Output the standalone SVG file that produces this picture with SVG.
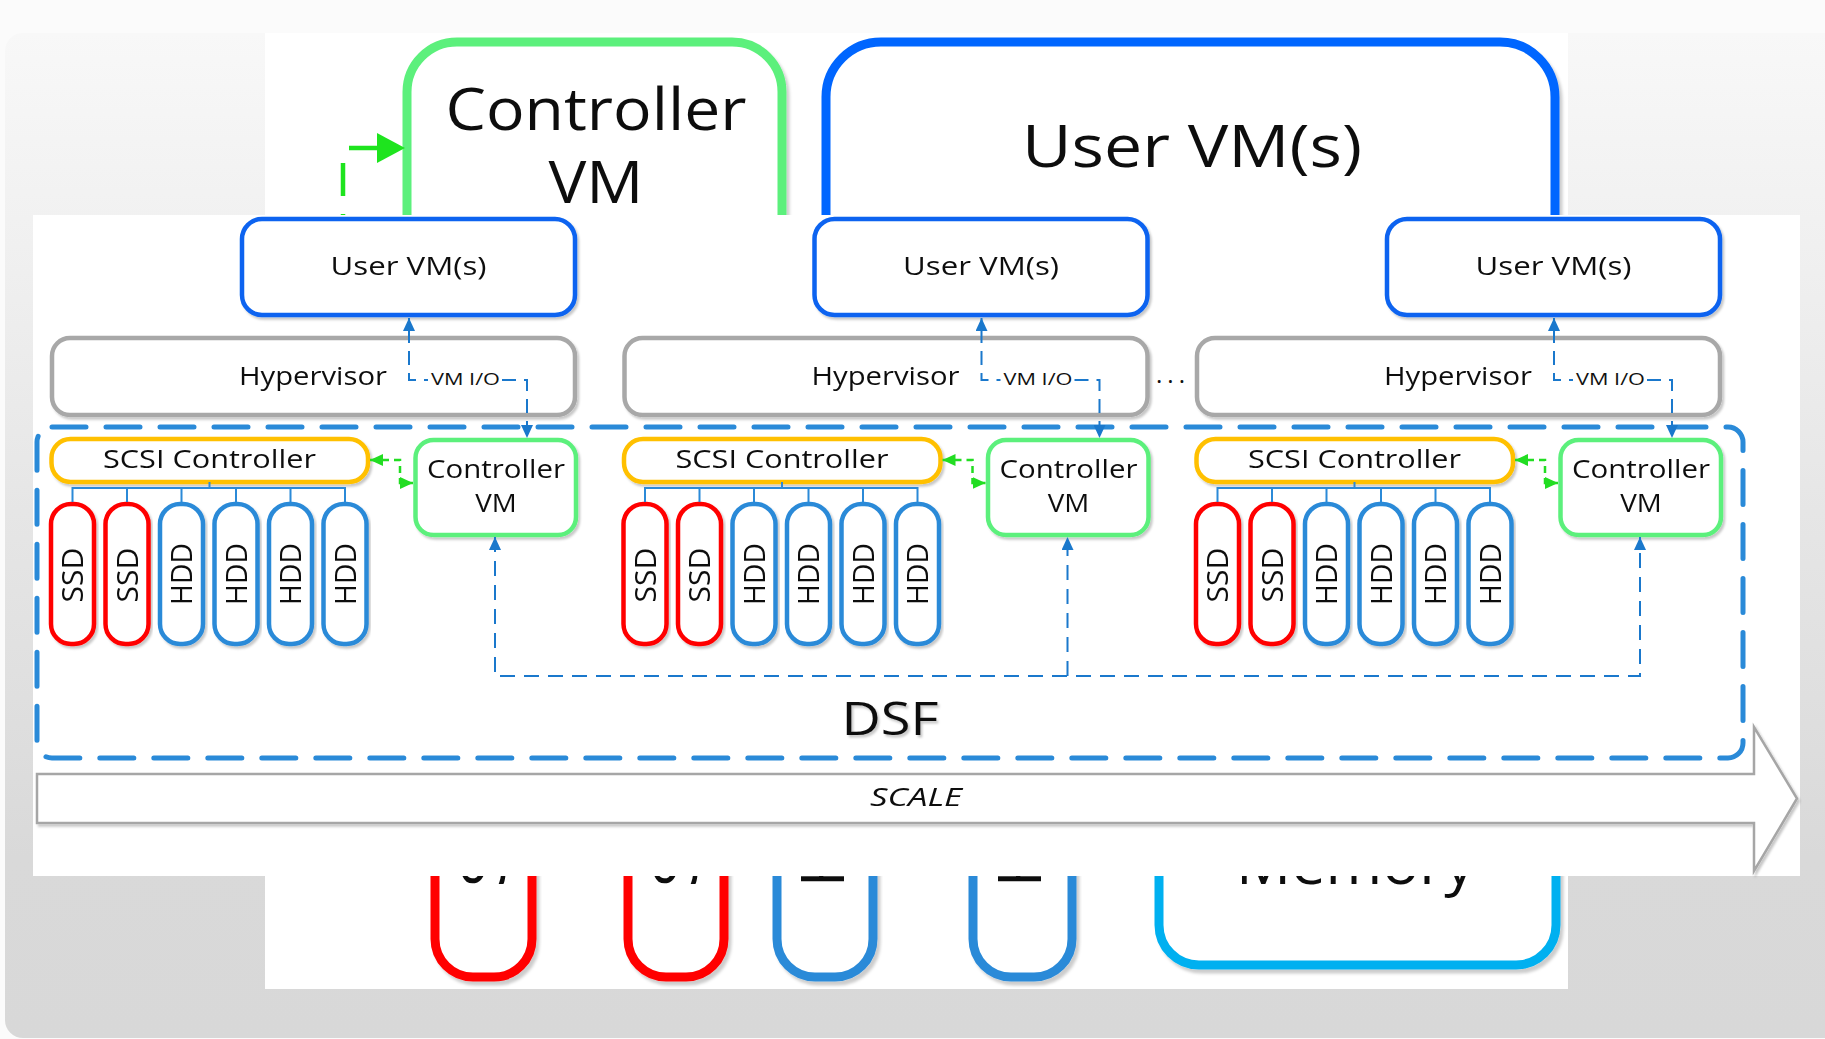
<svg xmlns="http://www.w3.org/2000/svg" width="1825" height="1039" viewBox="0 0 1825 1039">
<defs>
<style>
text{font-family:"Open Sans","Liberation Sans",sans-serif;fill:#111;}
.t25{font-size:25px;}
.t29{font-size:29px;}
.box{fill:#fff;stroke-width:4.5;}
.uvm{stroke:#0a64f0;}
.hyp{stroke:#a8a8a8;}
.scsi{stroke:#ffc000;}
.cvm{stroke:#5cf07c;}
.ssd{stroke:#ff0000;}
.hdd{stroke:#2b8ad8;}
.big{fill:#fff;stroke-width:9;}
.io{fill:none;stroke:#1a78cc;stroke-width:2;stroke-dasharray:14 8;}
.io2{fill:none;stroke:#1a78cc;stroke-width:2;stroke-dasharray:15 9;}
.tree{fill:none;stroke:#2b8ad8;stroke-width:2;}
.gdash{fill:none;stroke:#22dd22;stroke-width:2.5;stroke-dasharray:7 5;}
.dsf{fill:none;stroke:#2a8ad8;stroke-width:5;stroke-dasharray:34 20;stroke-linecap:round;}
</style>
<linearGradient id="bg" x1="0" y1="0" x2="0" y2="1">
<stop offset="0" stop-color="#f8f8f8"/>
<stop offset="0.82" stop-color="#d9d9d9"/>
<stop offset="1" stop-color="#d8d8d8"/>
</linearGradient>
<filter id="sh" x="-5%" y="-5%" width="115%" height="120%">
<feDropShadow dx="2" dy="2.5" stdDeviation="1.2" flood-color="#000" flood-opacity="0.22"/>
</filter>
<filter id="shb" x="-5%" y="-5%" width="115%" height="120%">
<feDropShadow dx="3" dy="4" stdDeviation="1.5" flood-color="#000" flood-opacity="0.2"/>
</filter>
<marker id="ab" viewBox="0 0 13 12" refX="13" refY="6" markerWidth="13" markerHeight="12" markerUnits="userSpaceOnUse" orient="auto-start-reverse">
<path d="M0,0 L13,6 L0,12 z" fill="#1a78cc"/>
</marker>
<marker id="ag" viewBox="0 0 13 12" refX="13" refY="6" markerWidth="13" markerHeight="12" markerUnits="userSpaceOnUse" orient="auto-start-reverse">
<path d="M0,0 L13,6 L0,12 z" fill="#22dd22"/>
</marker>
</defs>

<!-- background slide -->
<rect x="0" y="0" width="1825" height="1039" fill="#fbfbfb"/>
<rect x="5" y="33" width="1850" height="1005" rx="18" fill="url(#bg)"/>

<!-- back picture -->
<g id="back-picture">
<rect x="265" y="33" width="1303" height="956" fill="#fff"/>
<g id="back-controller-vm" filter="url(#shb)">
<rect class="big" x="407" y="42" width="375" height="560" rx="50" stroke="#5cf07c"/>
<text x="596" y="130" text-anchor="middle" font-size="59" textLength="301" lengthAdjust="spacingAndGlyphs">Controller</text>
<text x="596" y="203" text-anchor="middle" font-size="59" textLength="95" lengthAdjust="spacingAndGlyphs">VM</text>
</g>
<g id="back-user-vm" filter="url(#shb)">
<rect class="big" x="826" y="42" width="729" height="560" rx="55" stroke="#0066ff"/>
<text x="1192" y="167" text-anchor="middle" font-size="59" textLength="340" lengthAdjust="spacingAndGlyphs">User VM(s)</text>
</g>
<g id="back-arrow">
<path d="M379 148 H343 V240" fill="none" stroke="#1ee41e" stroke-width="4.5" stroke-dasharray="30 21 33 18"/>
<polygon points="377,133 405,148 377,163" fill="#1ee41e"/>
</g>
<g id="back-disk-1" filter="url(#shb)">
<rect class="big" x="435" y="640" width="97" height="337" rx="38" stroke="#ff0000"/>
<text transform="translate(505,887) rotate(-90)" font-size="60">SSD</text>
</g>
<g id="back-disk-2" filter="url(#shb)">
<rect class="big" x="628" y="640" width="96" height="337" rx="38" stroke="#ff0000"/>
<text transform="translate(697,887) rotate(-90)" font-size="60">SSD</text>
</g>
<g id="back-disk-3" filter="url(#shb)">
<rect class="big" x="777" y="640" width="96" height="337" rx="38" stroke="#2b8ad8"/>
<text transform="translate(844,887) rotate(-90)" font-size="60">HDD</text>
</g>
<g id="back-disk-4" filter="url(#shb)">
<rect class="big" x="973" y="640" width="99" height="337" rx="38" stroke="#2b8ad8"/>
<text transform="translate(1041,887) rotate(-90)" font-size="60">HDD</text>
</g>
<g id="back-memory" filter="url(#shb)">
<rect class="big" x="1159" y="640" width="397" height="325" rx="40" stroke="#00b0f0"/>
<text x="1355.5" y="884" text-anchor="middle" font-size="58" textLength="239" lengthAdjust="spacingAndGlyphs">Memory</text>
</g>
</g>

<!-- front panel -->
<rect id="front-panel" x="33" y="215" width="1767" height="661" fill="#fff"/>

<!-- DSF container -->
<g id="dsf">
<rect class="dsf" x="37" y="427" width="1706" height="331" rx="15"/>
<text x="890" y="735" text-anchor="middle" font-size="46" textLength="97" lengthAdjust="spacingAndGlyphs" filter="url(#sh)">DSF</text>
</g>

<!-- SCALE arrow -->
<g id="scale" filter="url(#sh)">
<polygon points="37,774 1754,774 1754,727 1797,798.5 1754,871 1754,823 37,823" fill="#fff" stroke="#a6a6a6" stroke-width="2.5"/>
<text x="916" y="806" text-anchor="middle" font-size="26" font-style="italic" textLength="92" lengthAdjust="spacingAndGlyphs">SCALE</text>
</g>

<!-- column 1 -->
<g id="col1">
<g id="uservm-1" filter="url(#sh)"><rect class="box uvm" x="242" y="219" width="333" height="96" rx="20"/><text class="t25" x="408.5" y="275" text-anchor="middle" textLength="156" lengthAdjust="spacingAndGlyphs">User VM(s)</text></g>
<g id="hypervisor-1" filter="url(#sh)"><rect class="box hyp" x="52" y="338" width="523" height="77" rx="18"/><text class="t25" x="313" y="385" text-anchor="middle" textLength="148" lengthAdjust="spacingAndGlyphs">Hypervisor</text></g>
<g id="scsi-1" filter="url(#sh)"><rect class="box scsi" x="51.5" y="439" width="316.5" height="43" rx="19"/><text class="t25" x="209.5" y="468" text-anchor="middle" textLength="213" lengthAdjust="spacingAndGlyphs">SCSI Controller</text></g>
<g id="cvm-1" filter="url(#sh)"><rect class="box cvm" x="415.5" y="440" width="160.5" height="95" rx="18"/><text class="t25" x="496" y="478" text-anchor="middle" textLength="138" lengthAdjust="spacingAndGlyphs">Controller</text><text class="t25" x="496" y="512" text-anchor="middle" textLength="41.5" lengthAdjust="spacingAndGlyphs">VM</text></g>
<g id="disk-1-1" filter="url(#sh)"><rect class="box ssd" x="51" y="504" width="43" height="140" rx="20"/><text class="t29" transform="translate(83,575) rotate(-90)" text-anchor="middle" textLength="55" lengthAdjust="spacingAndGlyphs">SSD</text></g>
<g id="disk-1-2" filter="url(#sh)"><rect class="box ssd" x="105.5" y="504" width="43" height="140" rx="20"/><text class="t29" transform="translate(137.5,575) rotate(-90)" text-anchor="middle" textLength="55" lengthAdjust="spacingAndGlyphs">SSD</text></g>
<g id="disk-1-3" filter="url(#sh)"><rect class="box hdd" x="160" y="504" width="43" height="140" rx="20"/><text class="t29" transform="translate(192,574) rotate(-90)" text-anchor="middle" textLength="62" lengthAdjust="spacingAndGlyphs">HDD</text></g>
<g id="disk-1-4" filter="url(#sh)"><rect class="box hdd" x="214.5" y="504" width="43" height="140" rx="20"/><text class="t29" transform="translate(246.5,574) rotate(-90)" text-anchor="middle" textLength="62" lengthAdjust="spacingAndGlyphs">HDD</text></g>
<g id="disk-1-5" filter="url(#sh)"><rect class="box hdd" x="269" y="504" width="43" height="140" rx="20"/><text class="t29" transform="translate(301,574) rotate(-90)" text-anchor="middle" textLength="62" lengthAdjust="spacingAndGlyphs">HDD</text></g>
<g id="disk-1-6" filter="url(#sh)"><rect class="box hdd" x="323.5" y="504" width="43" height="140" rx="20"/><text class="t29" transform="translate(355.5,574) rotate(-90)" text-anchor="middle" textLength="62" lengthAdjust="spacingAndGlyphs">HDD</text></g>
</g>

<!-- column 2 -->
<g id="col2" transform="translate(572.5,0)">
<g id="uservm-2" filter="url(#sh)"><rect class="box uvm" x="242" y="219" width="333" height="96" rx="20"/><text class="t25" x="408.5" y="275" text-anchor="middle" textLength="156" lengthAdjust="spacingAndGlyphs">User VM(s)</text></g>
<g id="hypervisor-2" filter="url(#sh)"><rect class="box hyp" x="52" y="338" width="523" height="77" rx="18"/><text class="t25" x="313" y="385" text-anchor="middle" textLength="148" lengthAdjust="spacingAndGlyphs">Hypervisor</text></g>
<g id="scsi-2" filter="url(#sh)"><rect class="box scsi" x="51.5" y="439" width="316.5" height="43" rx="19"/><text class="t25" x="209.5" y="468" text-anchor="middle" textLength="213" lengthAdjust="spacingAndGlyphs">SCSI Controller</text></g>
<g id="cvm-2" filter="url(#sh)"><rect class="box cvm" x="415.5" y="440" width="160.5" height="95" rx="18"/><text class="t25" x="496" y="478" text-anchor="middle" textLength="138" lengthAdjust="spacingAndGlyphs">Controller</text><text class="t25" x="496" y="512" text-anchor="middle" textLength="41.5" lengthAdjust="spacingAndGlyphs">VM</text></g>
<g id="disk-2-1" filter="url(#sh)"><rect class="box ssd" x="51" y="504" width="43" height="140" rx="20"/><text class="t29" transform="translate(83,575) rotate(-90)" text-anchor="middle" textLength="55" lengthAdjust="spacingAndGlyphs">SSD</text></g>
<g id="disk-2-2" filter="url(#sh)"><rect class="box ssd" x="105.5" y="504" width="43" height="140" rx="20"/><text class="t29" transform="translate(137.5,575) rotate(-90)" text-anchor="middle" textLength="55" lengthAdjust="spacingAndGlyphs">SSD</text></g>
<g id="disk-2-3" filter="url(#sh)"><rect class="box hdd" x="160" y="504" width="43" height="140" rx="20"/><text class="t29" transform="translate(192,574) rotate(-90)" text-anchor="middle" textLength="62" lengthAdjust="spacingAndGlyphs">HDD</text></g>
<g id="disk-2-4" filter="url(#sh)"><rect class="box hdd" x="214.5" y="504" width="43" height="140" rx="20"/><text class="t29" transform="translate(246.5,574) rotate(-90)" text-anchor="middle" textLength="62" lengthAdjust="spacingAndGlyphs">HDD</text></g>
<g id="disk-2-5" filter="url(#sh)"><rect class="box hdd" x="269" y="504" width="43" height="140" rx="20"/><text class="t29" transform="translate(301,574) rotate(-90)" text-anchor="middle" textLength="62" lengthAdjust="spacingAndGlyphs">HDD</text></g>
<g id="disk-2-6" filter="url(#sh)"><rect class="box hdd" x="323.5" y="504" width="43" height="140" rx="20"/><text class="t29" transform="translate(355.5,574) rotate(-90)" text-anchor="middle" textLength="62" lengthAdjust="spacingAndGlyphs">HDD</text></g>
</g>

<!-- ellipsis between columns 2 and 3 -->
<text id="ellipsis" x="1156" y="383" font-size="24" textLength="29" lengthAdjust="spacing">...</text>

<!-- column 3 -->
<g id="col3" transform="translate(1145,0)">
<g id="uservm-3" filter="url(#sh)"><rect class="box uvm" x="242" y="219" width="333" height="96" rx="20"/><text class="t25" x="408.5" y="275" text-anchor="middle" textLength="156" lengthAdjust="spacingAndGlyphs">User VM(s)</text></g>
<g id="hypervisor-3" filter="url(#sh)"><rect class="box hyp" x="52" y="338" width="523" height="77" rx="18"/><text class="t25" x="313" y="385" text-anchor="middle" textLength="148" lengthAdjust="spacingAndGlyphs">Hypervisor</text></g>
<g id="scsi-3" filter="url(#sh)"><rect class="box scsi" x="51.5" y="439" width="316.5" height="43" rx="19"/><text class="t25" x="209.5" y="468" text-anchor="middle" textLength="213" lengthAdjust="spacingAndGlyphs">SCSI Controller</text></g>
<g id="cvm-3" filter="url(#sh)"><rect class="box cvm" x="415.5" y="440" width="160.5" height="95" rx="18"/><text class="t25" x="496" y="478" text-anchor="middle" textLength="138" lengthAdjust="spacingAndGlyphs">Controller</text><text class="t25" x="496" y="512" text-anchor="middle" textLength="41.5" lengthAdjust="spacingAndGlyphs">VM</text></g>
<g id="disk-3-1" filter="url(#sh)"><rect class="box ssd" x="51" y="504" width="43" height="140" rx="20"/><text class="t29" transform="translate(83,575) rotate(-90)" text-anchor="middle" textLength="55" lengthAdjust="spacingAndGlyphs">SSD</text></g>
<g id="disk-3-2" filter="url(#sh)"><rect class="box ssd" x="105.5" y="504" width="43" height="140" rx="20"/><text class="t29" transform="translate(137.5,575) rotate(-90)" text-anchor="middle" textLength="55" lengthAdjust="spacingAndGlyphs">SSD</text></g>
<g id="disk-3-3" filter="url(#sh)"><rect class="box hdd" x="160" y="504" width="43" height="140" rx="20"/><text class="t29" transform="translate(192,574) rotate(-90)" text-anchor="middle" textLength="62" lengthAdjust="spacingAndGlyphs">HDD</text></g>
<g id="disk-3-4" filter="url(#sh)"><rect class="box hdd" x="214.5" y="504" width="43" height="140" rx="20"/><text class="t29" transform="translate(246.5,574) rotate(-90)" text-anchor="middle" textLength="62" lengthAdjust="spacingAndGlyphs">HDD</text></g>
<g id="disk-3-5" filter="url(#sh)"><rect class="box hdd" x="269" y="504" width="43" height="140" rx="20"/><text class="t29" transform="translate(301,574) rotate(-90)" text-anchor="middle" textLength="62" lengthAdjust="spacingAndGlyphs">HDD</text></g>
<g id="disk-3-6" filter="url(#sh)"><rect class="box hdd" x="323.5" y="504" width="43" height="140" rx="20"/><text class="t29" transform="translate(355.5,574) rotate(-90)" text-anchor="middle" textLength="62" lengthAdjust="spacingAndGlyphs">HDD</text></g>
</g>

<!-- connectors (drawn over the nodes) -->
<g id="connectors">
<g id="conn-col1">
<path class="io" d="M409 318 V380 H428" stroke-dashoffset="-11" marker-start="url(#ab)"/>
<path class="io" d="M502 380 H527 V438" marker-end="url(#ab)"/>
<path class="gdash" d="M370 460 H400 V483 H413" marker-start="url(#ag)" marker-end="url(#ag)"/>
<path class="tree" d="M209.5 482 V488 M72.5 502 V488 H345 V502 M127 488 V502 M181.5 488 V502 M236 488 V502 M290.5 488 V502"/>
</g>
<g id="conn-col2" transform="translate(572.5,0)">
<path class="io" d="M409 318 V380 H428" stroke-dashoffset="-11" marker-start="url(#ab)"/>
<path class="io" d="M502 380 H527 V438" marker-end="url(#ab)"/>
<path class="gdash" d="M370 460 H400 V483 H413" marker-start="url(#ag)" marker-end="url(#ag)"/>
<path class="tree" d="M209.5 482 V488 M72.5 502 V488 H345 V502 M127 488 V502 M181.5 488 V502 M236 488 V502 M290.5 488 V502"/>
</g>
<g id="conn-col3" transform="translate(1145,0)">
<path class="io" d="M409 318 V380 H428" stroke-dashoffset="-11" marker-start="url(#ab)"/>
<path class="io" d="M502 380 H527 V438" marker-end="url(#ab)"/>
<path class="gdash" d="M370 460 H400 V483 H413" marker-start="url(#ag)" marker-end="url(#ag)"/>
<path class="tree" d="M209.5 482 V488 M72.5 502 V488 H345 V502 M127 488 V502 M181.5 488 V502 M236 488 V502 M290.5 488 V502"/>
</g>
<path class="io2" d="M495 537 V676 H1640 V537" marker-start="url(#ab)" marker-end="url(#ab)"/>
<path class="io2" d="M1067.5 676 V537" marker-end="url(#ab)"/>
<text x="431" y="385" font-size="17" textLength="69" lengthAdjust="spacingAndGlyphs">VM I/O</text>
<text x="1003.5" y="385" font-size="17" textLength="69" lengthAdjust="spacingAndGlyphs">VM I/O</text>
<text x="1576" y="385" font-size="17" textLength="69" lengthAdjust="spacingAndGlyphs">VM I/O</text>
</g>
</svg>
